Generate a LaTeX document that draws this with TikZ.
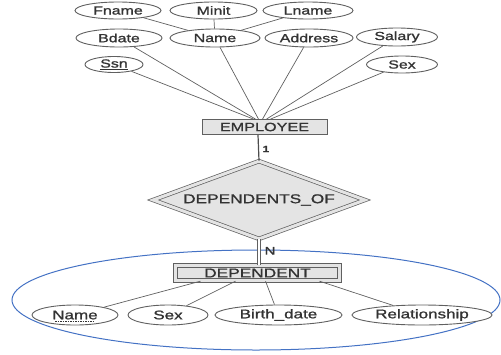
\documentclass[tikz,border=0pt]{standalone}
\usepackage{fontspec}
\setmainfont[FakeStretch=1.35,FakeBold=1.2]{Liberation Sans}
\usetikzlibrary{shapes.geometric,calc}
\definecolor{txt}{HTML}{333333}
\definecolor{ln}{HTML}{606060}
\definecolor{boxfill}{HTML}{E4E4E4}
\definecolor{blueov}{HTML}{4472C4}
\tikzset{
  attr/.style={ellipse,draw=ln,line width=0.9pt,fill=white,inner sep=0pt,text=txt,font=\fontsize{11.8}{12}\selectfont},
  battr/.style={attr,font=\fontsize{12.6}{13}\selectfont},
  conn/.style={draw=ln,line width=0.7pt},
  entbox/.style={rectangle,draw=ln,line width=0.8pt,fill=boxfill,inner sep=0pt,text=txt},
}
\begin{document}
\begin{tikzpicture}[x=1pt,y=-1pt]
\useasboundingbox (0,0) rectangle (501,354);
% blue oval
\draw[blueov,line width=1pt] (256,300) ellipse [x radius=244,y radius=50];
% top attributes
\node[attr,minimum width=86,minimum height=17] (fname) at (118,10.5) {Fname};
\node[attr,minimum width=87,minimum height=17] (minit) at (213.5,10.5) {Minit};
\node[attr,minimum width=90,minimum height=17] (lname) at (308,10.5) {Lname};
\node[attr,minimum width=86,minimum height=18] (bdate) at (119,38) {Bdate};
\node[attr,minimum width=90,minimum height=18] (name) at (215,38) {Name};
\node[attr,minimum width=88,minimum height=18] (address) at (309,38) {Address};
\node[attr,minimum width=81,minimum height=18] (salary) at (397,37) {Salary};
\node[attr,minimum width=58,minimum height=16] (ssn) at (114,64.5) {\underline{Ssn}};
\node[attr,minimum width=71,minimum height=17] (sex) at (402,64.5) {Sex};
% employee
\node[entbox,minimum width=125,minimum height=15,font=\fontsize{12}{12}\selectfont] (emp) at (264.5,127) {EMPLOYEE};
% relationship
\node[diamond,aspect=2.6,draw=ln,line width=0.7pt,double=boxfill,double distance=3pt,fill=boxfill,inner sep=0pt,minimum width=212,minimum height=78,text=txt,font=\fontsize{12.8}{13}\selectfont] (rel) at (259,200) {DEPENDENTS\_OF};
% dependent
\node[entbox,double=boxfill,double distance=3pt,minimum width=164.5,minimum height=15.5,font=\fontsize{12.8}{13}\selectfont] (dep) at (257.5,273) {DEPENDENT};
% bottom attributes
\node[battr,minimum width=86,minimum height=20] (dname) at (75,315) {Name};
\draw[txt,line width=0.6pt,dash pattern=on 1.5pt off 1pt] ($(dname.center)+(-20,6.5)$) -- ($(dname.center)+(20,6.5)$);
\node[battr,minimum width=80,minimum height=20] (dsex) at (168,315) {Sex};
\node[battr,minimum width=127,minimum height=20] (dbirth) at (278.5,315) {Birth\_date};
\node[battr,minimum width=140,minimum height=20] (drel) at (422,315) {Relationship};
% connectors top
\draw[conn] (fname) -- (name);
\draw[conn] (minit) -- (name);
\draw[conn] (lname) -- (name);
\draw[conn] (ssn) -- ([xshift=-11pt]emp.north);
\draw[conn] (bdate) -- ([xshift=-9pt]emp.north);
\draw[conn] (name) -- ([xshift=-6pt]emp.north);
\draw[conn] (address) -- ([xshift=-2pt]emp.north);
\draw[conn] (salary) -- ([xshift=2pt]emp.north);
\draw[conn] (sex) -- ([xshift=6pt]emp.north);
% employee to relationship
\draw[draw=ln!80!black,line width=1.2pt] ([xshift=-6.5pt]emp.south) -- (rel.north) node[pos=0.55,right=0pt,text=txt,font=\fontsize{9}{10}\selectfont\bfseries] {1};
% relationship to dependent (double)
\draw[draw=ln,line width=0.7pt,double=white,double distance=2pt] (rel.south) -- (rel.south |- dep.north) node[pos=0.45,right=2pt,text=txt,font=\fontsize{11}{11}\selectfont] {N};
% dependent attributes
\draw[conn] ([xshift=-57pt]dep.south) -- (dname);
\draw[conn] ([xshift=-22pt]dep.south) -- (dsex);
\draw[conn] ([xshift=8pt]dep.south) -- (dbirth);
\draw[conn] ([xshift=62pt]dep.south) -- (drel);
\end{tikzpicture}
\end{document}
